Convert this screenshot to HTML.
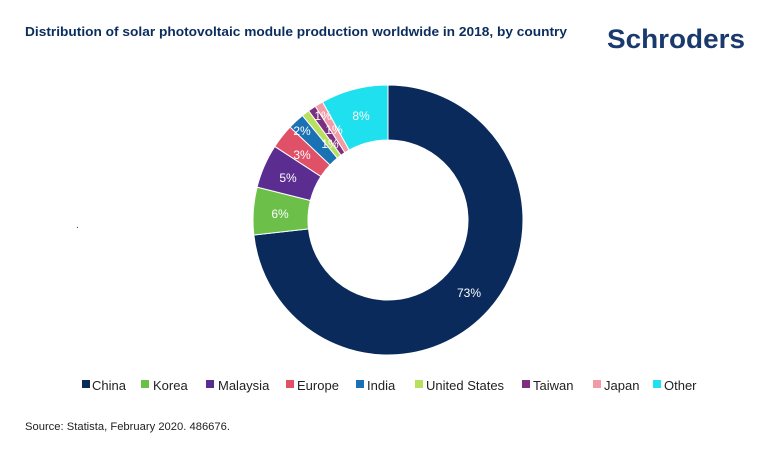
<!DOCTYPE html>
<html><head><meta charset="utf-8"><style>
body{margin:0;background:#fff;width:770px;height:455px;overflow:hidden;font-family:"Liberation Sans",sans-serif}
</style></head><body>
<svg id="s" width="770" height="455" xmlns="http://www.w3.org/2000/svg" font-family="Liberation Sans, sans-serif">
<text x="25" y="36" font-size="13" font-weight="bold" fill="#0a2d5e" textLength="542" lengthAdjust="spacingAndGlyphs">Distribution of solar photovoltaic module production worldwide in 2018, by country</text>
<text x="607" y="48" font-size="27" font-weight="bold" fill="#1a3a6e" textLength="138" lengthAdjust="spacingAndGlyphs">Schroders</text>
<text x="76" y="228" font-size="10" fill="#333">.</text>
<g id="pie"></g>
<g font-size="13" fill="#222" id="leg"></g>
<text x="25" y="430" font-size="11" fill="#222" textLength="205" lengthAdjust="spacingAndGlyphs">Source: Statista, February 2020. 486676.</text>
</svg>
<script>
var d=[["China",263.6,"#0a2a5c","73%",469,293],["Korea",20.5,"#6cc04a","6%",280,214],["Malaysia",18.9,"#5b2d90","5%",288,178],["Europe",10.5,"#e05168","3%",302,155],["India",7.2,"#1a72b5","2%",302,131],["United States",3.3,"#b6e05e","1%",330,144],["Taiwan",3.4,"#7b2f80","1%",334,130],["Japan",3.6,"#f29aa6","1%",323,116],["Other",29,"#1fe0ee","8%",361,116]];
var cx=388,cy=220,R=135,r=80,a=0,h="";
function p(rad,ang){return [cx+rad*Math.sin(ang),cy-rad*Math.cos(ang)];}
d.forEach(function(e){var a0=a/180*Math.PI;a+=e[1];var a1=a/180*Math.PI;var l=(a1-a0)>Math.PI?1:0;
var A=p(R,a0),B=p(R,a1),C=p(r,a1),D=p(r,a0);
h+='<path d="M'+A+' A'+R+' '+R+' 0 '+l+' 1 '+B+' L'+C+' A'+r+' '+r+' 0 '+l+' 0 '+D+'Z" fill="'+e[2]+'" stroke="#fff" stroke-width="1"/>';});
d.forEach(function(e){h+='<text x="'+e[4]+'" y="'+(e[5]+4)+'" font-size="12" fill="#fff" text-anchor="middle">'+e[3]+'</text>';});
document.getElementById("pie").innerHTML=h;
var xs=[82,141,206,286,356,415,522,593,653],ts=[92,153,218,297,367,426,533,604,664],g="";
d.forEach(function(e,i){g+='<rect x="'+xs[i]+'" y="380" width="8" height="8" fill="'+e[2]+'"/><text x="'+ts[i]+'" y="390">'+e[0]+'</text>';});
document.getElementById("leg").innerHTML=g;
</script>
</body></html>
